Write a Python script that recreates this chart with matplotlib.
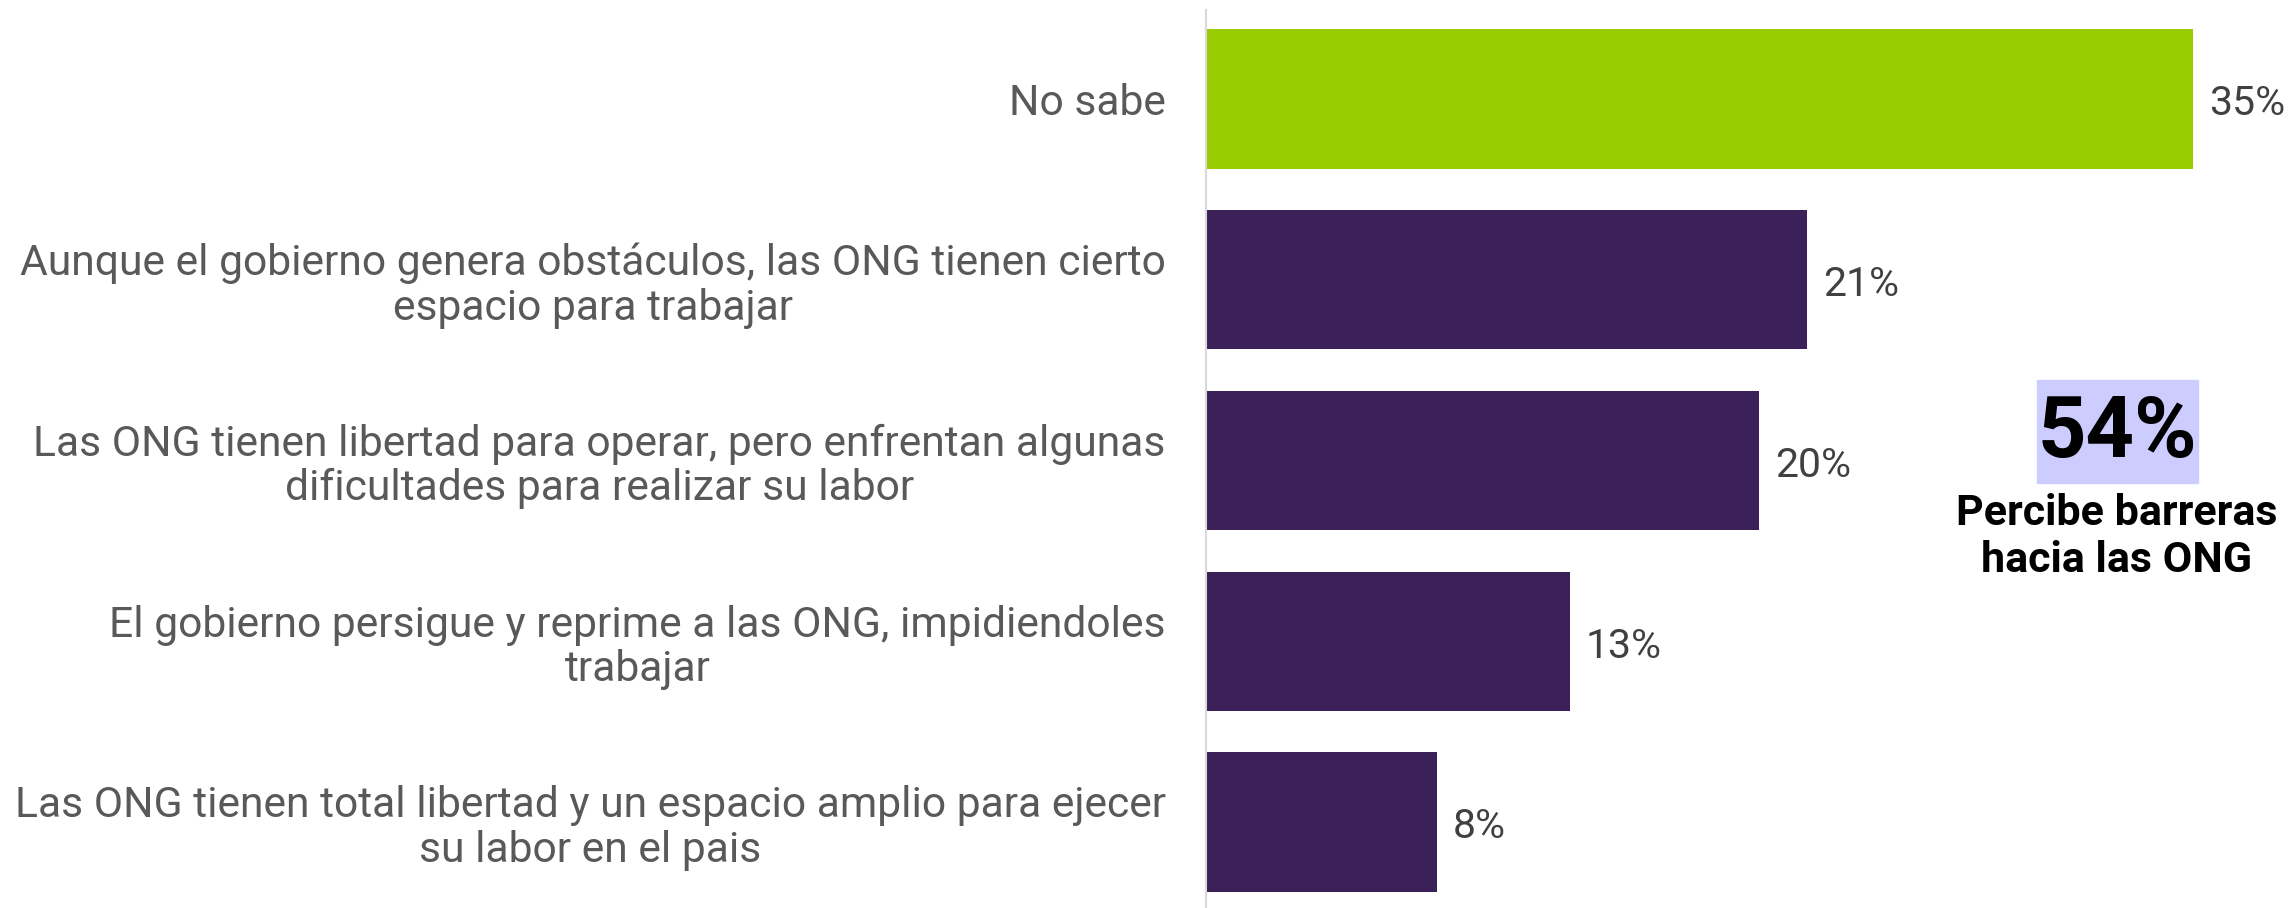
import matplotlib.pyplot as plt
from matplotlib.patches import Rectangle

plt.rcParams['font.family'] = ['Roboto', 'DejaVu Sans']

labels = [
    "No sabe",
    "Aunque el gobierno genera obstáculos, las ONG tienen cierto\nespacio para trabajar",
    "Las ONG tienen libertad para operar, pero enfrentan algunas\ndificultades para realizar su labor",
    "El gobierno persigue y reprime a las ONG, impidiendoles\ntrabajar",
    "Las ONG tienen total libertad y un espacio amplio para ejecer\nsu labor en el pais",
]
values = [35.0, 21.3, 19.6, 12.9, 8.2]
colors = ["#99cc00", "#3c2059", "#3c2059", "#3c2059", "#3c2059"]
total_text = "54%"
total_label = "Percibe barreras\nhacia las ONG"

W, H = 2293, 908
fig = plt.figure(figsize=(W / 100, H / 100), dpi=100)
ax = fig.add_axes([1206 / W, 0, 1 - 1206 / W, 898 / H])

pos = list(range(len(values)))
ax.barh(pos, values, height=0.77, color=colors)
ax.set_xlim(0, (W - 1206) / 28.2)
ax.set_ylim(4.476, -0.492)

for p, v in zip(pos, values):
    ax.annotate(f"{v:.0f}%", (v, p), xytext=(16, -5), textcoords='offset pixels',
                va='center', ha='left', fontsize=29.5, color='#404040')

ax.set_yticks(pos)
ax.set_yticklabels(labels, fontsize=30.7, color='#595959',
                   multialignment='center', linespacing=1.1)
ax.tick_params(axis='y', length=0, pad=29)
ax.tick_params(axis='x', bottom=False, labelbottom=False)
for s in ['top', 'right', 'bottom']:
    ax.spines[s].set_visible(False)
ax.spines['left'].set_color('#d9d9d9')
ax.spines['left'].set_linewidth(1.5)

fig.patches.append(Rectangle((2037 / W, 1 - 483 / H), 161 / W, 103 / H,
                             transform=fig.transFigure, color='#ccccff', zorder=0))
fig.text(2117 / W, 1 - 433 / H, total_text, ha='center', va='center',
         fontsize=61, fontweight='bold', color='black')
fig.text(2117 / W, 1 - 537 / H, total_label, ha='center', va='center',
         fontsize=31, fontweight='bold', color='black', linespacing=1.2)

fig.savefig('out.png', dpi=100)
